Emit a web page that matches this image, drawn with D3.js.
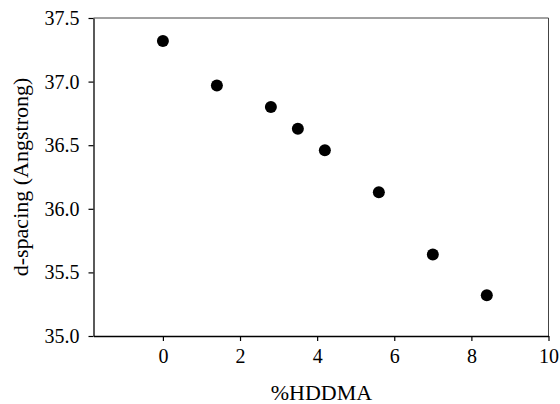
<!DOCTYPE html>
<html>
<head>
<meta charset="utf-8">
<script src="https://cdn.jsdelivr.net/npm/d3@7"></script>
<style>
html,body{margin:0;padding:0;background:#fff;}
svg{display:block;}
svg text{font-family:"Liberation Serif","Times New Roman",Times,serif !important;fill:#000;}
</style>
</head>
<body>
<svg id="chart" width="560" height="404"></svg>
<script>
const hddma = [0, 1.4, 2.8, 3.5, 4.2, 5.6, 7.0, 8.4];
const dSpacing = [37.32, 36.97, 36.80, 36.63, 36.46, 36.13, 35.64, 35.32];
const xTicks = [0, 2, 4, 6, 8, 10];
const yTicks = [35.0, 35.5, 36.0, 36.5, 37.0, 37.5];
const xTitle = "%HDDMA";
const yTitle = "d-spacing (Angstrong)";

const W = 560, H = 404;
const m = {left: 93.5, right: 11.5, top: 18, bottom: 68};
const FONT = "Liberation Serif, Times New Roman, serif";
const svg = d3.select("#chart");
const x = d3.scaleLinear().domain([-1.8, 10]).range([m.left, W - m.right]);
const y = d3.scaleLinear().domain([35, 37.5]).range([H - m.bottom, m.top]);

// frame top/right
svg.append("line").attr("x1", m.left).attr("x2", W - m.right).attr("y1", m.top).attr("y2", m.top)
  .attr("stroke", "#444").attr("stroke-width", 1);
svg.append("line").attr("x1", W - m.right).attr("x2", W - m.right).attr("y1", m.top).attr("y2", H - m.bottom)
  .attr("stroke", "#444").attr("stroke-width", 1);

const xAxis = svg.append("g").attr("transform", `translate(0,${H - m.bottom})`)
  .call(d3.axisBottom(x).tickValues(xTicks).tickFormat(d3.format("d")).tickSizeInner(5).tickSizeOuter(0).tickPadding(8));
const yAxis = svg.append("g").attr("transform", `translate(${m.left},0)`)
  .call(d3.axisLeft(y).tickValues(yTicks).tickFormat(d3.format(".1f")).tickSizeInner(5).tickSizeOuter(0).tickPadding(9));
[xAxis, yAxis].forEach(g => {
  g.attr("font-family", FONT).attr("font-size", 20);
  g.select(".domain").attr("stroke", "#000").attr("stroke-width", 1.3);
  g.selectAll(".tick line").attr("stroke", "#000").attr("stroke-width", 1.2);
  g.selectAll("text").attr("font-family", FONT).attr("font-size", 20).attr("fill", "#000");
});

svg.selectAll("circle.pt").data(hddma).enter().append("circle")
  .attr("class", "pt")
  .attr("cx", d => x(d))
  .attr("cy", (d, i) => y(dSpacing[i]))
  .attr("r", 6)
  .attr("fill", "#000");

svg.append("text").attr("x", (m.left + W - m.right) / 2 + 0.5).attr("y", 400)
  .attr("text-anchor", "middle").attr("font-family", FONT).attr("font-size", 22).text(xTitle);
svg.append("text").attr("transform", `translate(28,${(m.top + H - m.bottom) / 2}) rotate(-90)`)
  .attr("text-anchor", "middle").attr("font-family", FONT).attr("font-size", 22).text(yTitle);
</script>
</body>
</html>
